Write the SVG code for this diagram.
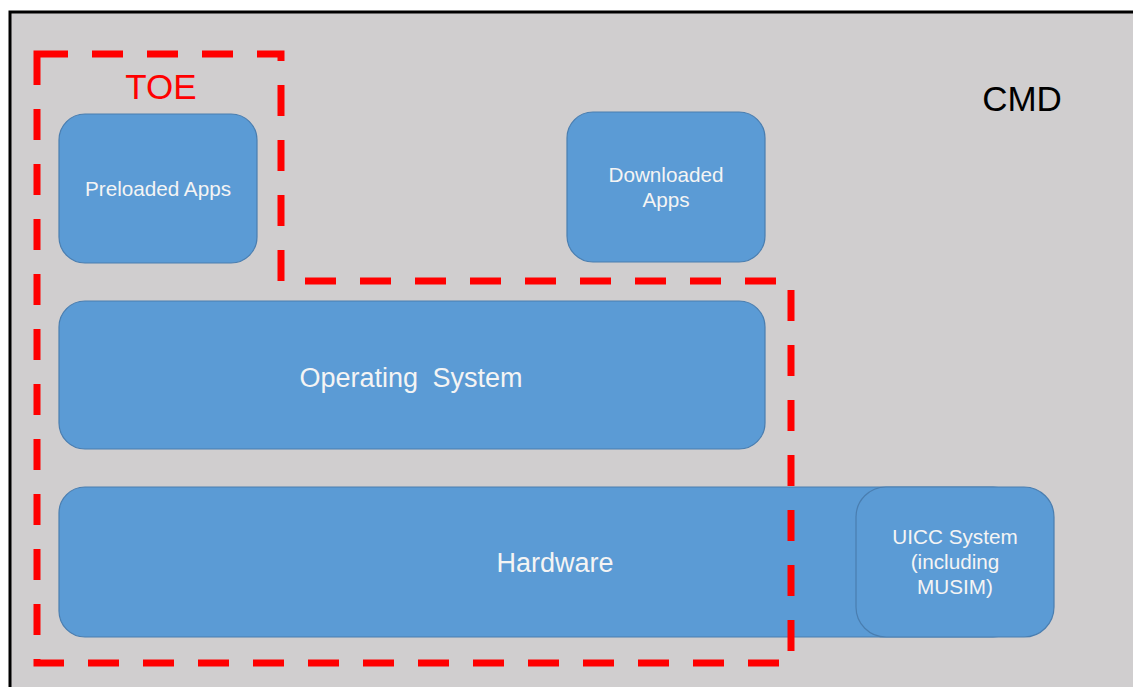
<svg xmlns="http://www.w3.org/2000/svg" width="1133" height="687" viewBox="0 0 1133 687">
<defs>
<style>
.box{fill:#5B9BD5;stroke:#4A7EB0;stroke-width:1.2}
.lbl{font-family:"Liberation Sans",Arial,sans-serif;fill:#F4F4F4;text-anchor:middle}
.s20{font-size:20.7px}
.s24{font-size:27px}
.big{font-family:"Liberation Sans",Arial,sans-serif;font-size:35px;text-anchor:middle}
.toe{fill:none;stroke:#FF0000;stroke-width:7;stroke-dasharray:31 24}
</style>
</defs>
<rect x="0" y="0" width="1133" height="687" fill="#FFFFFF"/>
<rect id="cmd" x="10" y="12" width="1140" height="690" fill="#D0CECF" stroke="#000000" stroke-width="3"/>
<text class="big" x="1022" y="111" fill="#000000">CMD</text>
<g id="preloaded">
<rect class="box" x="59" y="114" width="198" height="149" rx="26"/>
<text class="lbl s20" x="158" y="196">Preloaded Apps</text>
</g>
<g id="downloaded">
<rect class="box" x="567" y="112" width="198" height="150" rx="26"/>
<text class="lbl s20" x="666" y="182">Downloaded</text>
<text class="lbl s20" x="666" y="207">Apps</text>
</g>
<g id="os">
<rect class="box" x="59" y="301" width="706" height="148" rx="26"/>
<text class="lbl s24" x="411" y="387" word-spacing="7">Operating System</text>
</g>
<g id="hardware">
<rect class="box" x="59" y="487" width="960" height="150" rx="26"/>
<text class="lbl s24" x="555" y="572">Hardware</text>
</g>
<g id="uicc">
<rect class="box" x="856" y="487" width="198" height="150" rx="30"/>
<text class="lbl s20" x="955" y="544">UICC System</text>
<text class="lbl s20" x="955" y="569">(including</text>
<text class="lbl s20" x="955" y="594">MUSIM)</text>
</g>
<g id="toe">
<path class="toe" d="M37,54 H281 V281 H791 V663 H37 Z"/>
<text class="big" x="161" y="99" fill="#FF0000">TOE</text>
</g>
<g id="connectors"/>
</svg>
